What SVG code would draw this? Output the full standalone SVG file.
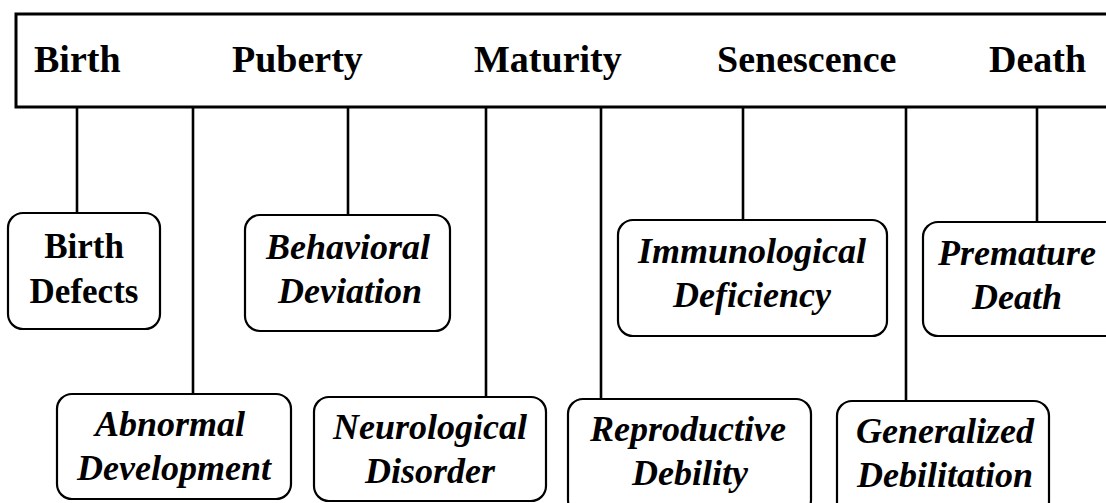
<svg xmlns="http://www.w3.org/2000/svg" width="1106" height="503" viewBox="0 0 1106 503">
<style>
.bar{fill:#fff;stroke:#000;stroke-width:3}
.box{fill:#fff;stroke:#000;stroke-width:2.2}
.con{stroke:#000;stroke-width:2.6;fill:none}
.hd{font-family:"Liberation Serif","Times New Roman",serif;font-weight:bold;font-size:38px;fill:#000}
.bt{font-family:"Liberation Serif","Times New Roman",serif;font-weight:bold;font-size:35px;fill:#000;text-anchor:middle}
.it{font-family:"Liberation Serif","Times New Roman",serif;font-weight:bold;font-style:italic;font-size:36px;fill:#000;text-anchor:middle}
</style>
<rect width="1106" height="503" fill="#fff"/>
<g id="timeline">
<rect class="bar" x="16" y="14" width="1110" height="93"/>
<text class="hd" x="34" y="72">Birth</text>
<text class="hd" x="232" y="72">Puberty</text>
<text class="hd" x="474" y="72">Maturity</text>
<text class="hd" x="717" y="72">Senescence</text>
<text class="hd" x="989" y="72">Death</text>
</g>
<g id="connectors">
<line class="con" x1="77" y1="107" x2="77" y2="213"/>
<line class="con" x1="193" y1="107" x2="193" y2="394"/>
<line class="con" x1="348" y1="107" x2="348" y2="215"/>
<line class="con" x1="486" y1="107" x2="486" y2="397"/>
<line class="con" x1="601" y1="107" x2="601" y2="399"/>
<line class="con" x1="743" y1="107" x2="743" y2="220"/>
<line class="con" x1="906" y1="107" x2="906" y2="401"/>
<line class="con" x1="1037" y1="107" x2="1037" y2="222"/>
</g>
<g id="birth-defects">
<rect class="box" x="8" y="213" width="152" height="116" rx="15"/>
<text class="bt" x="84" y="258">Birth</text>
<text class="bt" x="84" y="303">Defects</text>
</g>
<g id="behavioral-deviation">
<rect class="box" x="245" y="215" width="205" height="116" rx="15"/>
<text class="it" x="348" y="259">Behavioral</text>
<text class="it" x="350" y="303">Deviation</text>
</g>
<g id="immunological-deficiency">
<rect class="box" x="618" y="220" width="269" height="116" rx="15"/>
<text class="it" x="752" y="263">Immunological</text>
<text class="it" x="752" y="307">Deficiency</text>
</g>
<g id="premature-death">
<rect class="box" x="923" y="222" width="200" height="114" rx="15"/>
<text class="it" x="1017" y="265">Premature</text>
<text class="it" x="1017" y="309">Death</text>
</g>
<g id="abnormal-development">
<rect class="box" x="57" y="394" width="234" height="105" rx="15"/>
<text class="it" x="170" y="436">Abnormal</text>
<text class="it" x="174" y="480">Development</text>
</g>
<g id="neurological-disorder">
<rect class="box" x="314" y="397" width="232" height="104" rx="15"/>
<text class="it" x="430" y="439">Neurological</text>
<text class="it" x="430" y="483">Disorder</text>
</g>
<g id="reproductive-debility">
<rect class="box" x="568" y="399" width="243" height="116" rx="15"/>
<text class="it" x="688" y="441">Reproductive</text>
<text class="it" x="690" y="485">Debility</text>
</g>
<g id="generalized-debilitation">
<rect class="box" x="837" y="401" width="212" height="116" rx="15"/>
<text class="it" x="945" y="443">Generalized</text>
<text class="it" x="945" y="487">Debilitation</text>
</g>
</svg>
